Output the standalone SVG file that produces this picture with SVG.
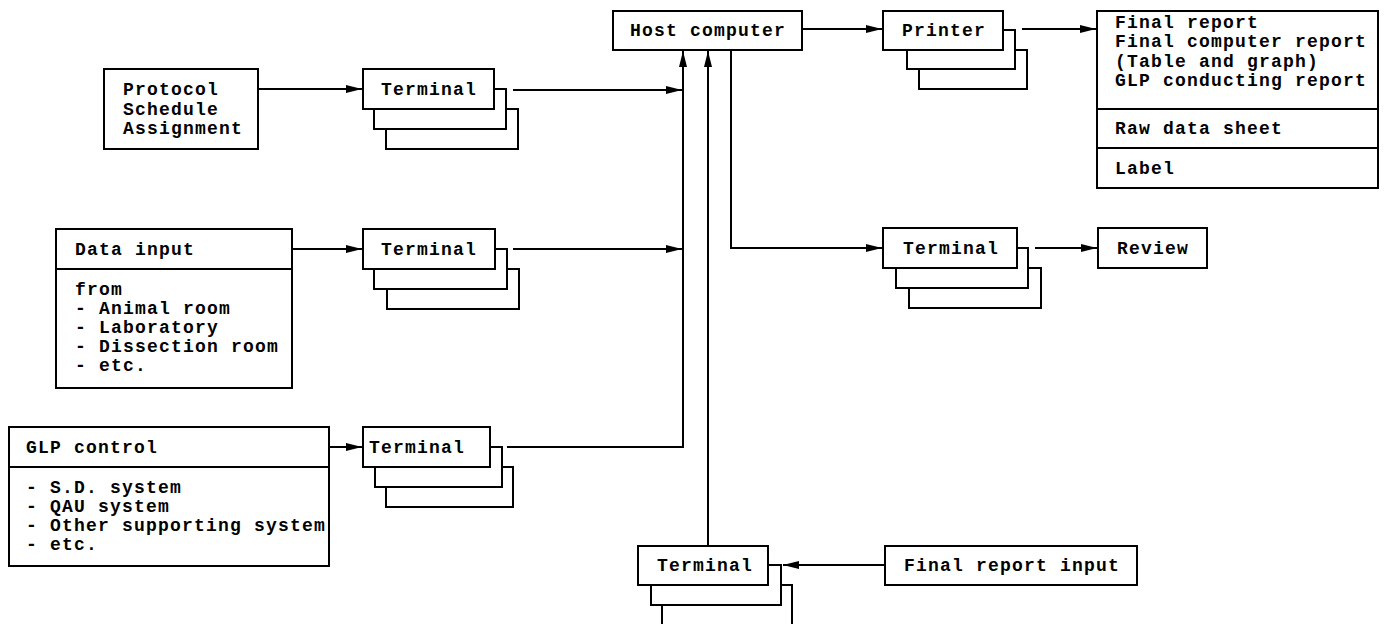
<svg xmlns="http://www.w3.org/2000/svg" width="1385" height="624" viewBox="0 0 1385 624">
<style>
rect{fill:#fff;stroke:#000;stroke-width:2}
.ln{fill:none;stroke:#000;stroke-width:2}
.c{fill:none;stroke:#000;stroke-width:2;marker-end:url(#ah)}
text{font-family:"Liberation Mono","DejaVu Sans Mono",monospace;font-weight:bold;font-size:18px;letter-spacing:1.2px;fill:#000}
</style>
<defs>
<marker id="ah" markerUnits="userSpaceOnUse" markerWidth="17" markerHeight="11" refX="16" refY="5.5" orient="auto">
<path d="M0,1.5 L16,5.5 L0,9.5 z" fill="#000"/>
</marker>
</defs>
<rect x="0" y="0" width="1385" height="624" style="stroke:none"/>
<g id="connectors">
<path class="c" d="M258,89 H362"/>
<path class="c" d="M513,90 H682"/>
<path class="c" d="M292,249 H362"/>
<path class="c" d="M513,249 H682"/>
<path class="c" d="M329,447 H362"/>
<path class="c" d="M507,447 H683 V51"/>
<path class="c" d="M708,546 V51"/>
<path class="c" d="M731,50 V248 H882"/>
<path class="c" d="M802,29 H882"/>
<path class="c" d="M1022,29 H1096"/>
<path class="c" d="M1035,248 H1097"/>
<path class="c" d="M885,565 H783"/>
</g>
<g id="host">
<rect x="613" y="11" width="189" height="39"/>
<text x="630" y="36">Host computer</text>
</g>
<g id="protocol">
<rect x="104" y="69" width="154" height="80"/>
<text x="123" y="95">Protocol</text>
<text x="123" y="115">Schedule</text>
<text x="123" y="134">Assignment</text>
</g>
<g id="terminal1">
<rect x="386" y="109" width="132" height="40"/>
<rect x="374" y="89" width="132" height="40"/>
<rect x="363" y="69" width="131" height="40"/>
<text x="381" y="95">Terminal</text>
</g>
<g id="datainput">
<rect x="56" y="229" width="236" height="159"/>
<path class="ln" d="M56,269 H292"/>
<text x="75" y="255">Data input</text>
<text x="75" y="295">from</text>
<text x="75" y="314">- Animal room</text>
<text x="75" y="333">- Laboratory</text>
<text x="75" y="352">- Dissection room</text>
<text x="75" y="371">- etc.</text>
</g>
<g id="terminal2">
<rect x="387" y="269" width="132" height="40"/>
<rect x="374" y="249" width="133" height="40"/>
<rect x="363" y="229" width="132" height="40"/>
<text x="381" y="255">Terminal</text>
</g>
<g id="glpcontrol">
<rect x="9" y="427" width="320" height="139"/>
<path class="ln" d="M9,467 H329"/>
<text x="26" y="453">GLP control</text>
<text x="26" y="493">- S.D. system</text>
<text x="26" y="512">- QAU system</text>
<text x="26" y="531">- Other supporting system</text>
<text x="26" y="550">- etc.</text>
</g>
<g id="terminal3">
<rect x="386" y="467" width="127" height="40"/>
<rect x="375" y="447" width="127" height="40"/>
<rect x="363" y="427" width="127" height="40"/>
<text x="369" y="453">Terminal</text>
</g>
<g id="printer">
<rect x="919" y="50" width="108" height="39"/>
<rect x="907" y="30" width="108" height="39"/>
<rect x="883" y="11" width="120" height="39"/>
<text x="902" y="36">Printer</text>
</g>
<g id="finalreport">
<rect x="1097" y="11" width="281" height="177"/>
<path class="ln" d="M1097,109 H1378 M1097,148 H1378"/>
<text x="1115" y="28">Final report</text>
<text x="1115" y="47">Final computer report</text>
<text x="1115" y="67">(Table and graph)</text>
<text x="1115" y="86">GLP conducting report</text>
<text x="1115" y="134">Raw data sheet</text>
<text x="1115" y="174">Label</text>
</g>
<g id="terminal4">
<rect x="909" y="268" width="132" height="40"/>
<rect x="896" y="248" width="132" height="40"/>
<rect x="883" y="228" width="134" height="40"/>
<text x="903" y="254">Terminal</text>
</g>
<g id="review">
<rect x="1098" y="228" width="109" height="40"/>
<text x="1117" y="254">Review</text>
</g>
<g id="terminal5">
<rect x="662" y="585" width="130" height="60"/>
<rect x="651" y="565" width="130" height="40"/>
<rect x="638" y="546" width="130" height="39"/>
<text x="657" y="571">Terminal</text>
</g>
<g id="finalreportinput">
<rect x="885" y="546" width="252" height="39"/>
<text x="904" y="571">Final report input</text>
</g>
</svg>
